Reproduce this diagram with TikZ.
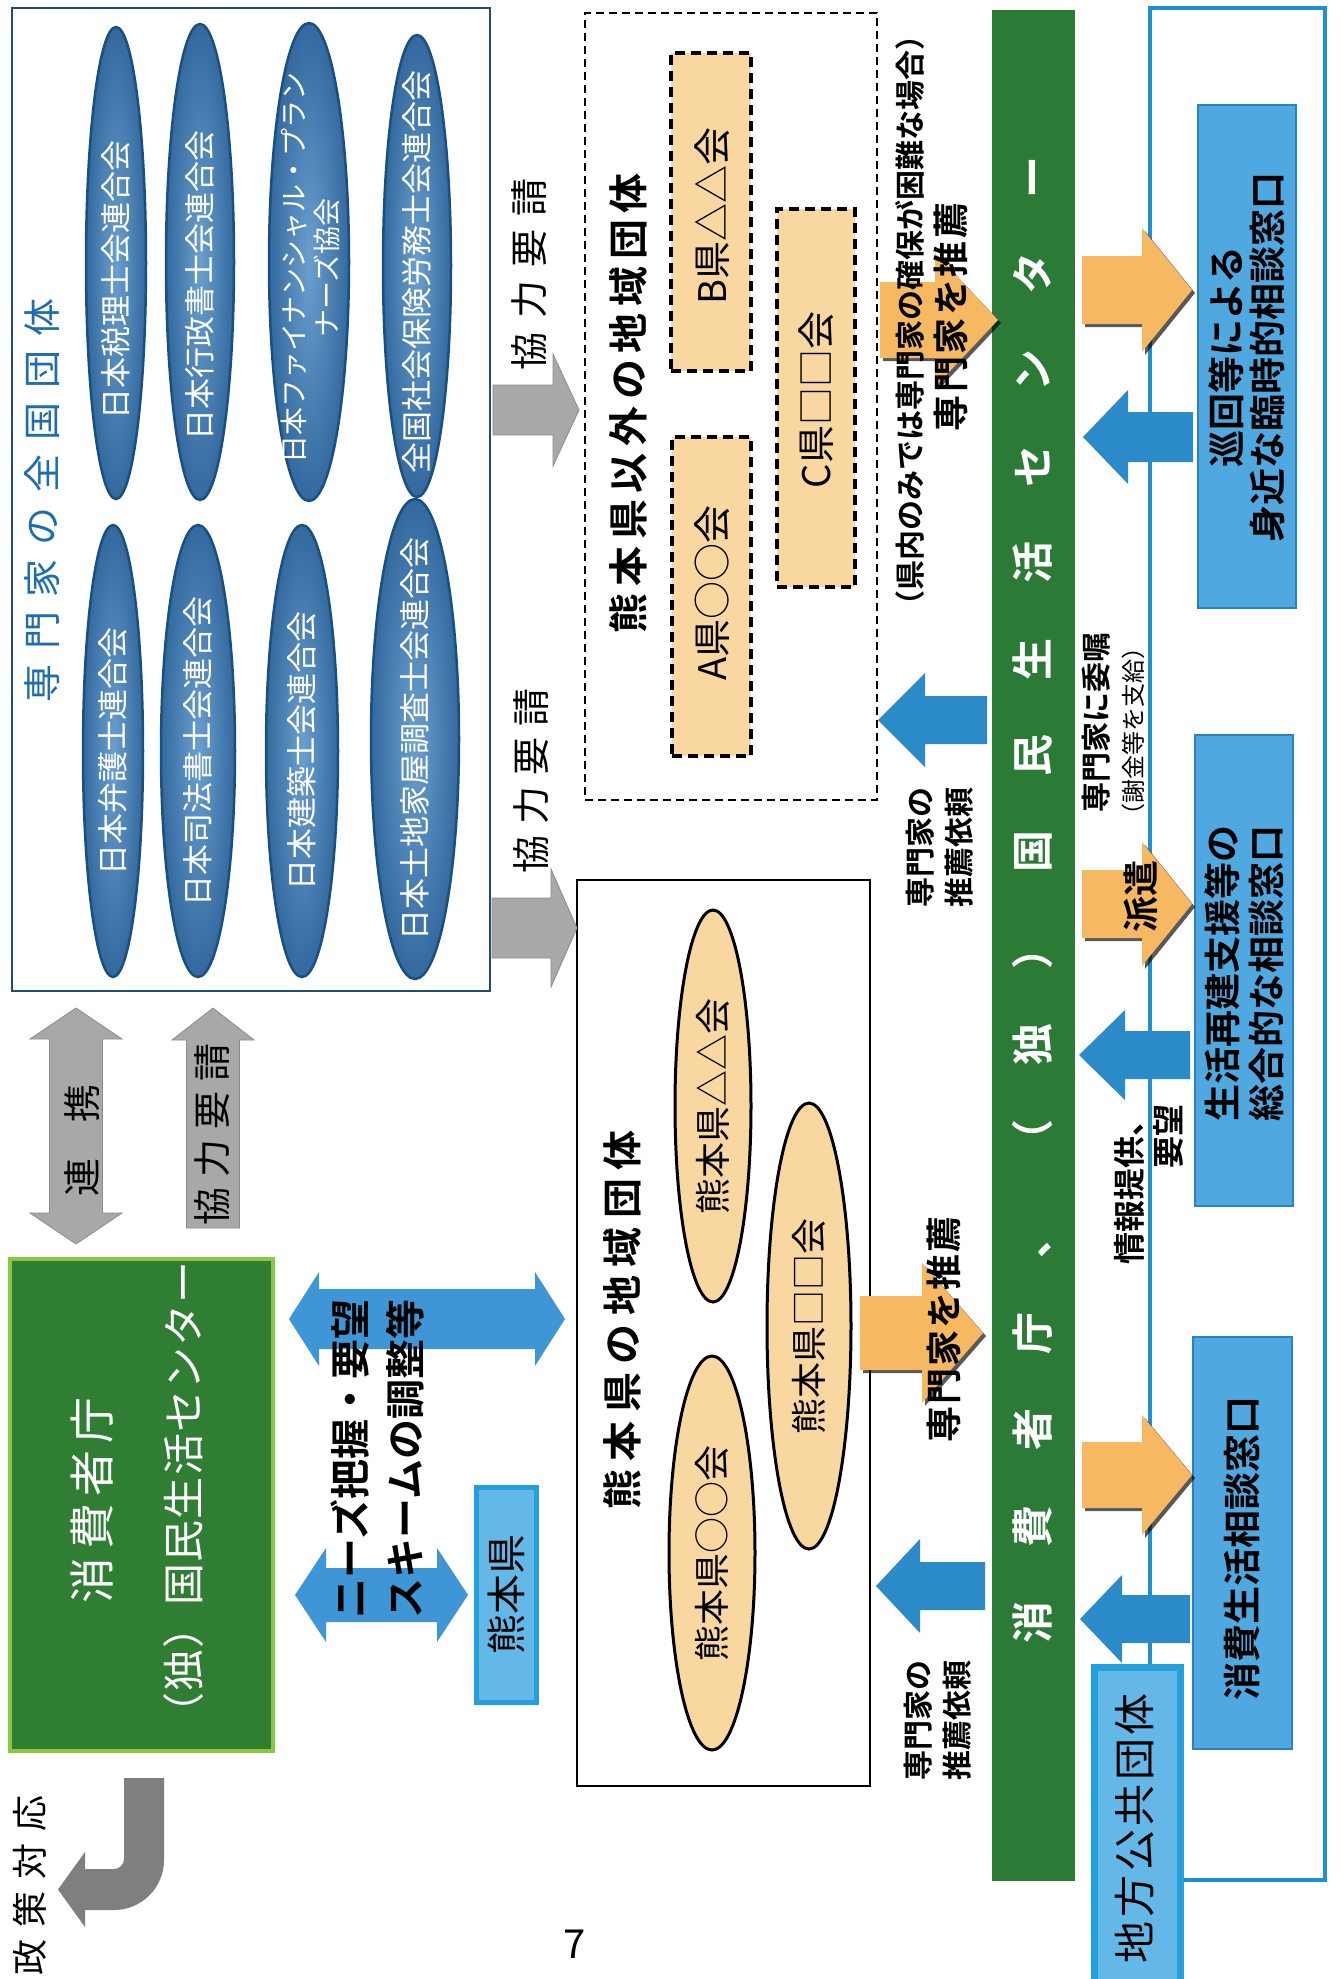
\documentclass[tikz,border=0pt]{standalone}
\usepackage{fontspec}
\setmainfont{Noto Sans CJK JP}[BoldFont={Noto Sans CJK JP Bold}]
\usetikzlibrary{shapes.geometric,shadows}
\newcommand{\fsz}[1]{\fontsize{#1}{#1}\selectfont}
\newcommand{\gp}{\hspace{0pt plus 1fil}}
\newcommand{\sprd}[2]{\makebox[#1pt][s]{#2}}
% horizontal block arrow: style, x start, x head base, x tip, y centre, shaft half, head half
\newcommand{\HArr}[7]{\fill[#1] (#2,{#5-#6}) -- (#3,{#5-#6}) -- (#3,{#5-#7}) -- (#4,#5) -- (#3,{#5+#7}) -- (#3,{#5+#6}) -- (#2,{#5+#6}) -- cycle;}
% vertical block arrow: style, y start, y head base, y tip, x centre, shaft half, head half
\newcommand{\VArr}[7]{\fill[#1] ({#5-#6},#2) -- ({#5-#6},#3) -- ({#5-#7},#3) -- (#5,#4) -- ({#5+#7},#3) -- ({#5+#6},#3) -- ({#5+#6},#2) -- cycle;}
% horizontal double arrow: style, x1, x2, head length, y centre, shaft half, head half
\newcommand{\HDArr}[7]{\fill[#1] (#2,#5) -- ({#2+#4},{#5-#7}) -- ({#2+#4},{#5-#6}) -- ({#3-#4},{#5-#6}) -- ({#3-#4},{#5-#7}) -- (#3,#5) -- ({#3-#4},{#5+#7}) -- ({#3-#4},{#5+#6}) -- ({#2+#4},{#5+#6}) -- ({#2+#4},{#5+#7}) -- cycle;}
% vertical double arrow: style, y1, y2, head length, x centre, shaft half, head half
\newcommand{\VDArr}[7]{\fill[#1] (#5,#2) -- ({#5-#7},{#2+#4}) -- ({#5-#6},{#2+#4}) -- ({#5-#6},{#3-#4}) -- ({#5-#7},{#3-#4}) -- (#5,#3) -- ({#5+#7},{#3-#4}) -- ({#5+#6},{#3-#4}) -- ({#5+#6},{#2+#4}) -- ({#5+#7},{#2+#4}) -- cycle;}

\definecolor{navyA}{HTML}{1F4E79}
\definecolor{ellL}{HTML}{6A9FCF}
\definecolor{ellD}{HTML}{33699E}
\definecolor{ellB}{HTML}{1A5080}
\definecolor{titleB}{HTML}{1E6DB0}
\definecolor{orgF}{HTML}{F9D7A0}
\definecolor{orgA}{HTML}{F6B860}
\definecolor{blueA}{HTML}{2A8BC8}
\definecolor{blueD}{HTML}{3E96D6}
\definecolor{boxBl}{HTML}{4FA8DF}
\definecolor{boxBlB}{HTML}{2A82C4}
\definecolor{frameB}{HTML}{1E90D6}
\definecolor{kenF}{HTML}{64B8E8}
\definecolor{kenB}{HTML}{22A0DD}
\definecolor{greenBar}{HTML}{2B7A36}
\definecolor{greenBox}{HTML}{2F7E34}
\definecolor{greenEdge}{HTML}{8DC63F}
\definecolor{grayA}{HTML}{A8A8A8}
\definecolor{grayE}{HTML}{8C8C8C}
\definecolor{grayJ}{HTML}{7F7F7F}

\begin{document}
\begin{tikzpicture}[x=1pt,y=-1pt,
  tx/.style={rotate=90,inner sep=0pt,outer sep=0pt},
  plainbox/.style={rectangle,inner sep=0pt,outer sep=0pt},
  ellA/.style={ellipse,draw=ellB,line width=2.5pt,inner color=ellL,outer color=ellD,inner sep=0pt},
  ellO/.style={ellipse,draw=black,line width=3pt,fill=orgF,inner sep=0pt},
  dashO/.style={rectangle,draw=black,line width=3.5pt,dash pattern=on 10pt off 6pt,fill=orgF,inner sep=0pt},
  rbox/.style={rectangle,draw=boxBlB,line width=1.5pt,fill=boxBl,inner sep=0pt},
  ellTxt/.style={tx,text=white,font=\fsz{31}},
  orgTxt/.style={tx,font=\fsz{36}},
  boldTxt/.style={tx,font=\fsz{30}\bfseries},
  orArrow/.style={fill=orgA,drop shadow={shadow xshift=3pt,shadow yshift=-3pt,opacity=.65,fill=black}},
  blArrow/.style={fill=blueA},
  grArrow/.style={fill=grayA,draw=grayE,line width=0.8pt}
]
\fill[white] (0,0) rectangle (1342,1979);
\useasboundingbox (0,0) rectangle (1342,1979);

% ---------- national expert organisations ----------
\node[plainbox,draw=navyA,line width=2.5pt,fill=white,minimum width=478pt,minimum height=983pt] (boxA) at (251,499.5) {};
\node[tx,text=titleB,font=\fsz{38}] (titleA) at (42,500) {\sprd{404}{専\gp 門\gp 家\gp の\gp 全\gp 国\gp 団\gp 体}};

\node[ellA,minimum width=60pt,minimum height=472pt] (E1) at (116,263) {};
\node[ellA,minimum width=68pt,minimum height=476pt] (E2) at (200,262) {};
\node[ellA,minimum width=80pt,minimum height=478pt] (E3) at (309,262) {};
\node[ellA,minimum width=68pt,minimum height=462pt] (E4) at (417,266) {};
\node[ellA,minimum width=60pt,minimum height=452pt] (L1) at (113,751) {};
\node[ellA,minimum width=74pt,minimum height=452pt] (L2) at (198,751) {};
\node[ellA,minimum width=72pt,minimum height=452pt] (L3) at (302,751) {};
\node[ellA,minimum width=88pt,minimum height=480pt] (L4) at (415,739) {};
\node[ellTxt] (E1t) at (116,280) {日本税理士会連合会};
\node[ellTxt] (E2t) at (200,285) {日本行政書士会連合会};
\node[tx,text=white,align=center,font=\fontsize{28}{33}\selectfont] (E3t) at (310,268) {日本ファイナンシャル・プラン\\ナーズ協会};
\node[ellTxt] (E4t) at (417,272) {全国社会保険労務士会連合会};
\node[ellTxt] (L1t) at (L1.center) {日本弁護士連合会};
\node[ellTxt] (L2t) at (L2.center) {日本司法書士会連合会};
\node[ellTxt] (L3t) at (L3.center) {日本建築士会連合会};
\node[ellTxt] (L4t) at (L4.center) {日本土地家屋調査士会連合会};

% ---------- groups outside Kumamoto ----------
\node[plainbox,draw=black,line width=2pt,dash pattern=on 8pt off 5pt,minimum width=292pt,minimum height=787pt] (boxB) at (731,406.5) {};
\node[tx,font=\fsz{40}\bfseries] (titleB) at (628,403) {\sprd{460}{熊\gp 本\gp 県\gp 以\gp 外\gp の\gp 地\gp 域\gp 団\gp 体}};
\node[dashO,minimum width=79pt,minimum height=319pt] (RA) at (711.5,596.5) {};
\node[dashO,minimum width=80pt,minimum height=318pt] (RB) at (711,212) {};
\node[dashO,minimum width=78pt,minimum height=378pt] (RC) at (816,398) {};
\node[tx,font=\fsz{38}] (RAt) at (712,593) {A県○○会};
\node[tx,font=\fsz{38}] (RBt) at (712,216) {B県△△会};
\node[tx,font=\fsz{38}] (RCt) at (816,400) {C県□□会};

% ---------- groups in Kumamoto ----------
\node[plainbox,draw=black,line width=2.5pt,minimum width=293pt,minimum height=906pt] (boxC) at (723.5,1333) {};
\node[tx,font=\fsz{40}\bfseries] (titleC) at (622,1320) {\sprd{379}{熊\gp 本\gp 県\gp の\gp 地\gp 域\gp 団\gp 体}};
\node[ellO,minimum width=76pt,minimum height=392pt] (K1) at (713,1106) {};
\node[ellO,minimum width=84pt,minimum height=446pt] (K2) at (809,1326) {};
\node[ellO,minimum width=86pt,minimum height=394pt] (K3) at (712,1553) {};
\node[orgTxt] (K1t) at (K1.center) {熊本県△△会};
\node[orgTxt] (K2t) at (K2.center) {熊本県□□会};
\node[orgTxt] (K3t) at (K3.center) {熊本県○○会};

% ---------- grey request arrows ----------
\HArr{grArrow}{493}{553}{579}{410}{25}{56}
\HArr{grArrow}{492}{551}{577}{928}{30}{59}
\node[tx,font=\fsz{38}] (req1) at (529,274) {\sprd{192}{協\gp 力\gp 要\gp 請}};
\node[tx,font=\fsz{38}] (req2) at (531,781) {\sprd{185}{協\gp 力\gp 要\gp 請}};

\VDArr{grArrow}{1008}{1244}{31}{76}{26.5}{46}
\node[tx,font=\fsz{38}] (renkei) at (82,1140) {\sprd{112}{連\gp 携}};
\VArr{grArrow}{1228}{1040}{1008}{213}{26.5}{41}
\node[tx,font=\fsz{38}] (req3) at (212,1134) {\sprd{182}{協\gp 力\gp 要\gp 請}};

% ---------- consumer agency box ----------
\node[plainbox,draw=greenEdge,line width=4pt,fill=greenBox,minimum width=263pt,minimum height=492pt] (agency) at (141.5,1505) {};
\node[tx,text=white,font=\fsz{46}] (agency1) at (92,1500) {\sprd{206}{消\gp 費\gp 者\gp 庁}};
\node[tx,text=white,font=\fsz{42}] (agency2) at (184,1498) {\sprd{473}{（\gp 独\gp ）\gp 国\gp 民\gp 生\gp 活\gp セ\gp ン\gp タ\gp ー}};

% ---------- blue double arrows ----------
\HDArr{fill=blueD}{289}{565}{30}{1319}{30}{47}
\HDArr{fill=blueD}{295}{468}{31}{1595}{27}{47}
\node[tx,align=center,font=\fontsize{40}{55}\selectfont\bfseries] (needs) at (377.5,1459) {ニーズ把握・要望\\スキームの調整等};
\node[plainbox,draw=kenB,line width=5pt,fill=kenF,minimum width=60pt,minimum height=215pt] (kenbox) at (506,1594.5) {};
\node[tx,font=\fsz{40}] (kentxt) at (kenbox.center) {熊本県};

% ---------- policy response ----------
\fill[grayJ] (124,1778) -- (164,1778) -- (164,1860) arc[start angle=0,end angle=90,radius=50] -- (85,1910) -- (85,1927) -- (58,1889.5) -- (85,1852) -- (85,1869) -- (114,1869) arc[start angle=90,end angle=0,radius=10] -- cycle;
\node[tx,font=\fsz{36}] (seisaku) at (30,1885) {\sprd{180}{政\gp 策\gp 対\gp 応}};
\node[inner sep=0pt,font=\fsz{40}] (pnum) at (575,1944) {7};

% ---------- main green bar ----------
\node[plainbox,fill=greenBar,minimum width=83pt,minimum height=1871pt] (bar) at (1033.5,945.5) {};
\node[tx,text=white,font=\fsz{42}\bfseries] (bartxt) at (1033,900) {\sprd{1487}{消\gp 費\gp 者\gp 庁\gp 、\gp （\gp 独\gp ）\gp 国\gp 民\gp 生\gp 活\gp セ\gp ン\gp タ\gp ー}};

% ---------- right column ----------
\node[plainbox,draw=frameB,line width=4pt,minimum width=175pt,minimum height=1872pt] (frame) at (1237.5,944) {};
\node[rbox,minimum width=98pt,minimum height=503pt] (R1) at (1247,356.5) {};
\node[rbox,minimum width=98pt,minimum height=471pt] (R2) at (1244,970.5) {};
\node[rbox,minimum width=99pt,minimum height=412pt] (R3) at (1242.5,1543) {};
\node[tx,align=center,font=\fontsize{37}{41}\selectfont\bfseries] (R1t) at (1247,357) {巡回等による\\身近な臨時的相談窓口};
\node[tx,align=center,font=\fontsize{37}{44}\selectfont\bfseries] (R2t) at (1244,973) {生活再建支援等の\\総合的な相談窓口};
\node[tx,font=\fsz{38}\bfseries] (R3t) at (1242,1548) {消費生活相談窓口};

% arrows between bar and right column
\HArr{orArrow}{1082}{1142}{1192}{290}{34}{62}
\HArr{orArrow}{1082}{1142}{1192}{904}{34}{62}
\HArr{orArrow}{1082}{1142}{1192}{1475}{33}{60}
\HArr{blArrow}{1193}{1128}{1083}{437}{25}{47}
\HArr{blArrow}{1190}{1125}{1079}{1055}{24}{45}
\HArr{blArrow}{1190}{1122}{1080}{1619}{24}{44}

\node[plainbox,draw=kenB,line width=7pt,fill=kenF,minimum width=86pt,minimum height=328pt] (local) at (1137,1831) {};
\node[tx,font=\fsz{42}] (localt) at (1135,1828) {\sprd{270}{地\gp 方\gp 公\gp 共\gp 団\gp 体}};

\node[tx,font=\fsz{36}\bfseries] (haken) at (1141,896) {派遣};
\node[boldTxt] (itaku) at (1096,722) {専門家に委嘱};
\node[tx,font=\fsz{24}] (shakin) at (1133,731) {（謝金等を支給）};
\node[tx,anchor=east,align=right,font=\fontsize{32}{39}\selectfont\bfseries] (jouhou) at (1148.5,1104) {情報提供、\\要望};

% arrows between groups and bar
\HArr{blArrow}{987}{925}{878}{720}{24}{47}
\HArr{blArrow}{985}{920}{876}{1586}{24}{47}
\HArr{orArrow}{880}{935}{998}{320}{38}{67}
\HArr{orArrow}{860}{922}{983}{1333}{37}{70}
\node[tx,font=\fsz{30}\bfseries] (kennai) at (910,320) {（県内のみでは専門家の確保が困難な場合）};
\node[tx,font=\fsz{36}\bfseries] (suisen1) at (951,317) {\sprd{229}{専\gp 門\gp 家\gp を\gp 推\gp 薦}};
\node[tx,font=\fsz{36}\bfseries] (suisen2) at (944,1329) {\sprd{226}{専\gp 門\gp 家\gp を\gp 推\gp 薦}};
\node[tx,align=center,font=\fontsize{30}{39}\selectfont\bfseries] (irai1) at (939.5,847) {専門家の\\推薦依頼};
\node[tx,align=center,font=\fontsize{30}{39}\selectfont\bfseries] (irai2) at (938,1720) {専門家の\\推薦依頼};
\end{tikzpicture}
\end{document}
